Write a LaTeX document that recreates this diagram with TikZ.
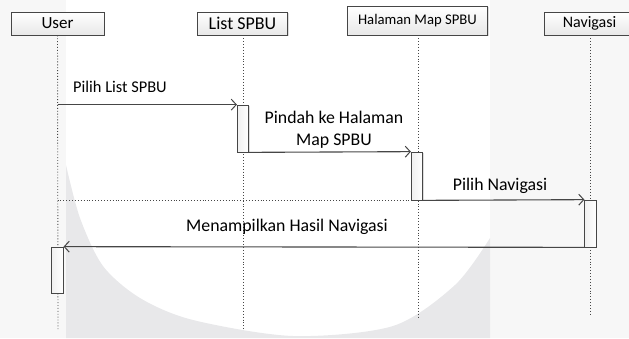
\documentclass[tikz,border=0pt]{standalone}
\usepackage{fontspec}
\setmainfont{Carlito}
\usetikzlibrary{arrows.meta, shadows}
\definecolor{wmgrey}{RGB}{232,232,234}
\definecolor{wmlight}{RGB}{247,247,247}
\definecolor{linegrey}{RGB}{70,70,70}
\tikzset{
  lifebox/.style={draw=linegrey, line width=0.7pt, top color=white, bottom color=gray!18,
    inner sep=0pt, drop shadow={shadow xshift=1.2pt, shadow yshift=-1.2pt, fill=gray!45, opacity=0.6}},
  actbox/.style={draw=linegrey, line width=0.7pt, left color=gray!12, right color=white,
    inner sep=0pt, minimum width=11.5, drop shadow={shadow xshift=1.2pt, shadow yshift=-1.2pt, fill=gray!45, opacity=0.6}},
  lifeline/.style={dotted, line width=0.9pt, linegrey},
  msg/.style={-{Straight Barb[length=5pt, width=11pt, line width=1pt]}, line width=1.1pt, linegrey},
  msgtext/.style={font=\fontsize{17.8}{22}\selectfont, text=black, inner sep=0pt, align=center}
}
\begin{document}
\begin{tikzpicture}[x=1pt,y=-1pt]
        \useasboundingbox (0,0) rectangle (629,338);
        %watermark
        \fill[wmlight] (0,0) rectangle (66,338);
        \fill[wmlight] (490,0) rectangle (629,338);
        \fill[wmgrey] (66,338) -- plot[smooth] coordinates {(66,165) (80,218) (103,266) (140,298) (193,320) (293,336) (393,326) (455,285) (490,238)} -- (490,338) -- cycle;

        %objek
        \node[lifebox, minimum width=93, minimum height=23, font=\fontsize{17}{20}\selectfont] (user) at (57.5,23.5) {User};
        \node[lifebox, minimum width=90, minimum height=23, font=\fontsize{18}{20}\selectfont] (list) at (242.5,23.5) {List SPBU};
        \node[lifebox, minimum width=140, minimum height=29, font=\fontsize{14.7}{18}\selectfont] (map) at (417.5,20.5) {Halaman Map SPBU};
        \node[lifebox, minimum width=90, minimum height=23, font=\fontsize{16}{20}\selectfont] (navi) at (589.5,23.5) {Navigasi};

        %lifeline
        \coordinate (userEnd) at (58,330);
        \coordinate (listEnd) at (243,330);
        \coordinate (mapEnd) at (418,317);
        \coordinate (naviEnd) at (590,315);
        \draw[lifeline] (user) -- (userEnd);
        \draw[lifeline] (list.south -| listEnd) -- (listEnd);
        \draw[lifeline] (map.south -| mapEnd) -- (mapEnd);
        \draw[lifeline] (navi.south -| naviEnd) -- (naviEnd);

        %aktivasi
        \node[actbox, minimum height=47] (actList) at (243,128.5) {};
        \node[actbox, minimum height=48] (actMap) at (417,176) {};
        \node[actbox, minimum height=47] (actNavi) at (590.5,223.5) {};
        \node[actbox, minimum height=46] (actUser) at (57.5,270) {};

        %pesan
        \draw[lifeline] (user |- actMap.south west) -- (actMap.south west);
        \draw[msg] (user |- actList.north west) -- (actList.north west);
        \node[msgtext, anchor=west, font=\fontsize{16.4}{20}\selectfont] (m1) at (73,87) {Pilih List SPBU};
        \draw[msg] (actList.south east) -- (actMap.north west);
        \node[msgtext] (m2) at (334,130) {Pindah ke Halaman\\Map SPBU};
        \draw[msg] (actMap.south east) -- (actNavi.north west);
        \node[msgtext] (m3) at (500,186) {Pilih Navigasi};
        \draw[msg] (actNavi.south west) -- (actUser.north east);
        \node[msgtext] (m4) at (287,227) {Menampilkan Hasil Navigasi};
\end{tikzpicture}
\end{document}
